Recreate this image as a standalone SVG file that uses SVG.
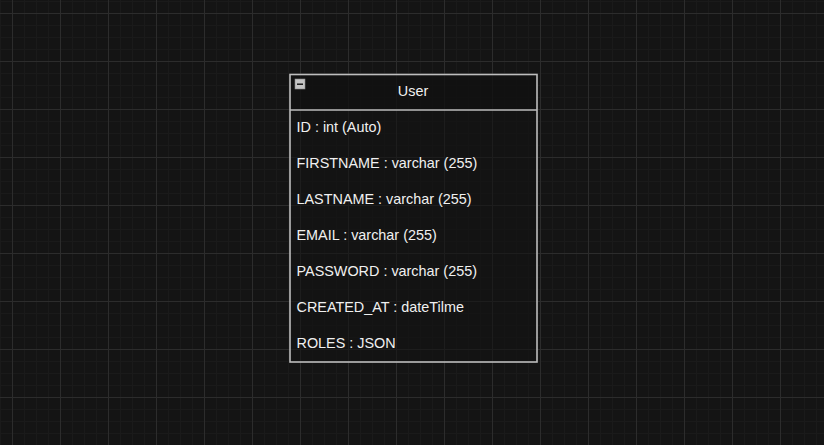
<svg xmlns="http://www.w3.org/2000/svg" width="824" height="445" viewBox="0 0 824 445">
  <defs>
    <pattern id="grid" patternUnits="userSpaceOnUse" x="12" y="13" width="48" height="48">
      <rect x="0" y="0" width="48" height="48" fill="#141414"/>
      <g fill="#1a1a1a">
        <rect x="12" y="0" width="1" height="48"/>
        <rect x="24" y="0" width="1" height="48"/>
        <rect x="36" y="0" width="1" height="48"/>
        <rect x="0" y="12" width="48" height="1"/>
        <rect x="0" y="24" width="48" height="1"/>
        <rect x="0" y="36" width="48" height="1"/>
      </g>
      <g fill="#2c2c2c">
        <rect x="0" y="0" width="1" height="48"/>
        <rect x="0" y="0" width="48" height="1"/>
      </g>
    </pattern>
  </defs>
  <style>
    .frame { fill: none; stroke: #bdbdbd; stroke-width: 1.6; }
    .title { font-family: "Liberation Sans", Arial, sans-serif; font-size: 14.4px; fill: #f0f0f0; text-anchor: middle; }
    .attr { font-family: "Liberation Sans", Arial, sans-serif; font-size: 14.4px; fill: #f0f0f0; }
  </style>
  <rect x="0" y="0" width="824" height="445" fill="url(#grid)"/>
  <g id="node-user">
    <rect x="290" y="74" width="247" height="288" fill="#121212" fill-opacity="0.55"/>
    <rect x="290" y="74" width="247" height="36" fill="#101010" fill-opacity="0.5"/>
    <rect class="frame" x="290" y="74.5" width="247" height="287.5"/>
    <line class="frame" x1="290" y1="110" x2="537" y2="110"/>
    <g id="collapse-icon">
      <rect x="295" y="79" width="10" height="10" fill="#c4c4c4" stroke="#8a8a8a" stroke-width="0.6"/>
      <rect x="297" y="83.5" width="6" height="1.4" fill="#111"/>
    </g>
    <text class="title" x="413" y="96">User</text>
    <text class="attr" x="296.5" y="132">ID : int (Auto)</text>
    <text class="attr" x="296.5" y="168">FIRSTNAME : varchar (255)</text>
    <text class="attr" x="296.5" y="204">LASTNAME : varchar (255)</text>
    <text class="attr" x="296.5" y="240">EMAIL : varchar (255)</text>
    <text class="attr" x="296.5" y="276">PASSWORD : varchar (255)</text>
    <text class="attr" x="296.5" y="312">CREATED_AT : dateTilme</text>
    <text class="attr" x="296.5" y="348">ROLES : JSON</text>
  </g>
  <g id="connectors"></g>
</svg>
